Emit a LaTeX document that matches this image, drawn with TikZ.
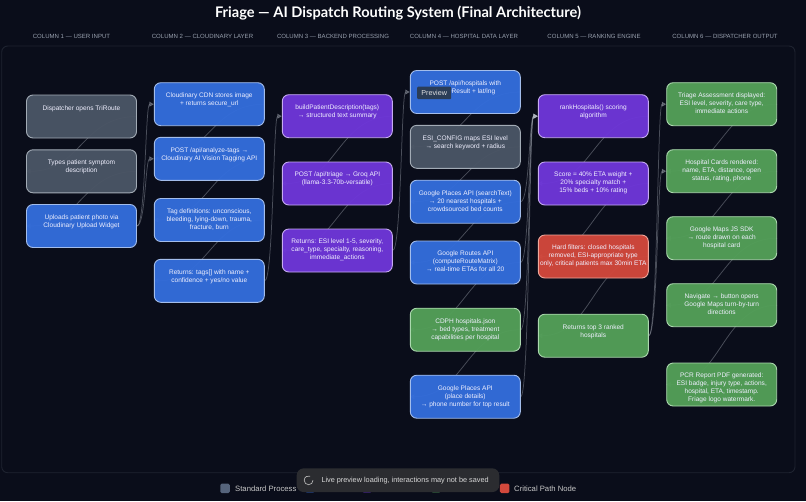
\documentclass[tikz,border=0pt]{standalone}
\usepackage{fontspec}
\setmainfont{Liberation Sans}
\newfontfamily\titlefont{Lato}
\usepackage{xcolor}
\usetikzlibrary{arrows.meta,backgrounds,calc}

\definecolor{pagebg}{HTML}{0A0D1A}
\definecolor{framecol}{HTML}{1E2330}
\definecolor{linkcol}{HTML}{BCC2CC}
\definecolor{headcol}{HTML}{98A0AE}
\definecolor{greyfill}{HTML}{4A5565}
\definecolor{greyedge}{HTML}{A2ABB5}
\definecolor{bluefill}{HTML}{336DDB}
\definecolor{blueedge}{HTML}{A3BDEB}
\definecolor{purplefill}{HTML}{6E36D8}
\definecolor{purpleedge}{HTML}{C6ABF2}
\definecolor{greenfill}{HTML}{539F58}
\definecolor{greenedge}{HTML}{ABD8AE}
\definecolor{redfill}{HTML}{D2483C}
\definecolor{rededge}{HTML}{F0A79C}
\definecolor{slatefill}{HTML}{56647C}
\definecolor{tipfill}{HTML}{2B3D57}
\definecolor{toastfill}{HTML}{2B2C30}

\tikzset{
	flow/.style={rectangle, rounded corners=6.5, minimum width=110, minimum height=43, inner sep=0, line width=0.9},
	greybox/.style={flow, draw=greyedge, fill=greyfill, fill opacity=0.96},
	bluebox/.style={flow, draw=blueedge, fill=bluefill, fill opacity=0.96},
	purplebox/.style={flow, draw=purpleedge, fill=purplefill, fill opacity=0.96},
	greenbox/.style={flow, draw=greenedge, fill=greenfill, fill opacity=0.96},
	redbox/.style={flow, draw=rededge, fill=redfill, fill opacity=0.96},
	flowtext/.style={anchor=north, inner sep=0, align=center, text=white!94!blue, font=\fontsize{6.55}{8}\selectfont, execute at begin node=\strut},
	colhead/.style={inner sep=0, text=headcol, font=\fontsize{6.05}{8}\selectfont},
	swatch/.style={rectangle, rounded corners=1.5, minimum size=9.5, inner sep=0},
	legendtext/.style={anchor=west, inner sep=0, text=white!78!black, font=\fontsize{7.7}{10}\selectfont},
	link/.style={draw=linkcol, opacity=0.36, line width=0.75, -{Triangle[length=4.5,width=5]},
		to path={let \p1=(\tikztostart), \p2=(\tikztotarget) in
			.. controls ({0.5*\x1+0.5*\x2},\y1) and ({0.5*\x1+0.5*\x2},\y2) .. (\tikztotarget)}},
}

\begin{document}
\begin{tikzpicture}[x=1pt,y=-1pt]
\useasboundingbox (0,0) rectangle (806,501);

\node[inner sep=0, text=white, font=\fontsize{14.6}{18}\selectfont\titlefont\bfseries] (title) at (398,13.3) {Friage — AI Dispatch Routing System (Final Architecture)};

\foreach \nm/\x/\txt in {head1/71.5/{COLUMN 1 — USER INPUT}, head2/202.5/{COLUMN 2 — CLOUDINARY LAYER}, head3/333/{COLUMN 3 — BACKEND PROCESSING}, head4/464/{COLUMN 4 — HOSPITAL DATA LAYER}, head5/594/{COLUMN 5 — RANKING ENGINE}, head6/725/{COLUMN 6 — DISPATCHER OUTPUT}}{
	\node[colhead] (\nm) at (\x,36) {\txt};
}

% the boxes, column by column
\foreach \nm/\x/\y/\sty/\txt in {
	user1/81.5/116.5/greybox/{Dispatcher opens TriRoute},
	user2/81.5/171.3/greybox/{Types patient symptom\\description},
	user3/81.5/226/bluebox/{Uploads patient photo via\\Cloudinary Upload Widget},
	cloud1/209.3/104.2/bluebox/{Cloudinary CDN stores image\\+ returns secure\_url},
	cloud2/209.3/158.8/bluebox/{POST /api/analyze-tags →\\Cloudinary AI Vision Tagging API},
	cloud3/209.3/220/bluebox/{Tag definitions: unconscious,\\bleeding, lying-down, trauma,\\fracture, burn},
	cloud4/209.3/280.8/bluebox/{Returns: tags[] with name +\\confidence + yes/no value},
	back1/337.3/116.2/purplebox/{buildPatientDescription(tags)\\→ structured text summary},
	back2/337.3/183.5/purplebox/{POST /api/triage → Groq API\\(llama-3.3-70b-versatile)},
	back3/337.3/250.5/purplebox/{Returns: ESI level 1-5, severity,\\care\_type, specialty, reasoning,\\immediate\_actions},
	hosp1/465.3/92/bluebox/{POST /api/hospitals with\\triageResult + lat/lng},
	hosp2/465.3/146.8/greybox/{ESI\_CONFIG maps ESI level\\→ search keyword + radius},
	hosp3/465.3/201.7/bluebox/{Google Places API (searchText)\\→ 20 nearest hospitals +\\crowdsourced bed counts},
	hosp4/465.3/262.5/bluebox/{Google Routes API\\(computeRouteMatrix)\\→ real-time ETAs for all 20},
	hosp5/465.3/329.7/greenbox/{CDPH hospitals.json\\→ bed types, treatment\\capabilities per hospital},
	hosp6/465.3/396.7/bluebox/{Google Places API\\(place details)\\→ phone number for top result},
	rank1/593.3/116.2/purplebox/{rankHospitals() scoring\\algorithm},
	rank2/593.3/183.5/purplebox/{Score = 40\% ETA weight +\\20\% specialty match +\\15\% beds + 10\% rating},
	rank3/593.3/256.5/redbox/{Hard filters: closed hospitals\\removed, ESI-appropriate type\\only, critical patients max 30min ETA},
	rank4/593.3/335.7/greenbox/{Returns top 3 ranked\\hospitals},
	disp1/721.7/104.2/greenbox/{Triage Assessment displayed:\\ESI level, severity, care type,\\immediate actions},
	disp2/721.7/171.2/greenbox/{Hospital Cards rendered:\\name, ETA, distance, open\\status, rating, phone},
	disp3/721.7/238.2/greenbox/{Google Maps JS SDK\\→ route drawn on each\\hospital card},
	disp4/721.7/305.2/greenbox/{Navigate → button opens\\Google Maps turn-by-turn\\directions},
	disp5/721.7/384.5/greenbox/{PCR Report PDF generated:\\ESI badge, injury type, actions,\\hospital, ETA, timestamp.\\Friage logo watermark.}}{
	\node[\sty] (\nm) at (\x,\y) {};
	\node[flowtext] (\nm-t) at ([yshift=11.6]\nm.center) {\txt};
}

% page, frame and links go under the boxes
\begin{scope}[on background layer]
\fill[pagebg] (0,0) rectangle (806,501);
\draw[framecol, line width=0.9, rounded corners=6] (1.7,46) rectangle (795,472.7);
\foreach \a/\b in {user1/user2, user2/user3, user3/cloud1, user3/cloud2,
	cloud1/cloud2, cloud2/cloud3, cloud3/cloud4, cloud4/back1,
	back1/back2, back2/back3, back3/hosp1,
	hosp1/hosp2, hosp2/hosp3, hosp3/hosp4, hosp4/hosp5, hosp5/hosp6,
	hosp3/rank1, hosp4/rank1, hosp5/rank1, hosp6/rank1,
	rank1/rank2, rank2/rank3, rank3/rank4, rank4/disp1, rank4/disp2,
	disp1/disp2, disp2/disp3, disp3/disp4, disp4/disp5}{
	\draw[link] (\a.east) to (\b.west);
}
\end{scope}

% legend
\node[swatch, fill=slatefill] (swStd) at (225,488.3) {};
\node[legendtext] (lbStd) at (235,488.3) {Standard Process};
\node[swatch, fill=bluefill, opacity=0.6] (swBlue) at (310,487.8) {};
\node[swatch, fill=purplefill, opacity=0.6] (swPurple) at (367,487.8) {};
\node[swatch, fill=greenfill, opacity=0.6] (swGreen) at (436,487.8) {};
\node[swatch, fill=redfill] (swCrit) at (504.7,488.3) {};
\node[legendtext] (lbCrit) at (514,488.3) {Critical Path Node};

% tooltip and toast of the preview page
\node[rectangle, rounded corners=1, fill=tipfill, minimum width=34, minimum height=12.5, inner sep=0, text=white!88!black, font=\fontsize{7.2}{9}\selectfont] (preview) at (434.2,92.8) {Preview};
\node[rectangle, rounded corners=7, fill=toastfill, minimum width=202.6, minimum height=23.7, inner sep=0] (toast) at (398,480.2) {};
\node[inner sep=0, anchor=west, text=white!85!black, font=\fontsize{7.3}{9}\selectfont] (toastmsg) at (321.3,480.3) {Live preview loading, interactions may not be saved};
\draw[white!70!black, line width=0.7] (313,480.3) arc[start angle=0, end angle=290, radius=4.4];
\end{tikzpicture}
\end{document}
